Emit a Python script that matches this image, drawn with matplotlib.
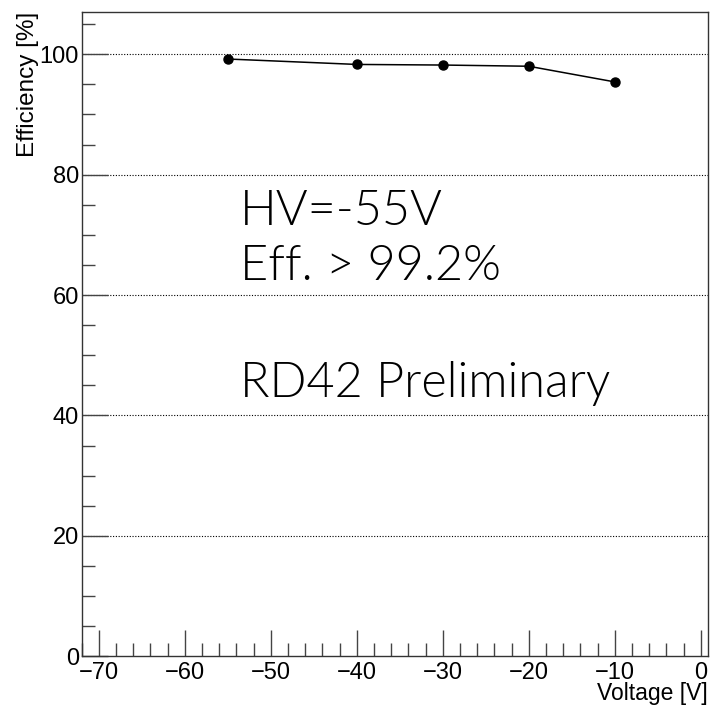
import matplotlib
matplotlib.use("Agg")
import matplotlib.pyplot as plt
from matplotlib.ticker import MultipleLocator

voltage = [-55, -40, -30, -20, -10]
efficiency = [99.2, 98.3, 98.2, 98.0, 95.4]
x_ticks = [-70, -60, -50, -40, -30, -20, -10, 0]
y_ticks = [0, 20, 40, 60, 80, 100]
annotations = ["HV=-55V", "Eff. > 99.2%", "RD42 Preliminary"]

plt.rcParams['font.family'] = ['Liberation Sans', 'DejaVu Sans']

fig = plt.figure(figsize=(7.12, 7.09), dpi=100)
ax = fig.add_axes([0.1147, 0.0743, 0.8797, 0.9087])

ax.plot(voltage, efficiency, color='black', lw=1.1, marker='o', ms=6.5, zorder=3)

ax.set_xlim(-72, 0.85)
ax.set_ylim(0, 107)
ax.set_xticks(x_ticks)
ax.set_yticks(y_ticks)
ax.xaxis.set_minor_locator(MultipleLocator(2))
ax.yaxis.set_minor_locator(MultipleLocator(5))
ax.tick_params(axis='both', which='major', direction='in', length=19, width=1.0,
               labelsize=17, color='#444444', top=False, right=False)
ax.tick_params(axis='both', which='minor', direction='in', length=9.5, width=1.0,
               color='#444444', top=False, right=False)
ax.tick_params(axis='x', pad=4)
ax.tick_params(axis='y', pad=2)

for y in y_ticks[1:]:
    ax.axhline(y, color='black', lw=0.8, ls=(0, (1, 1.5)), zorder=1)

for s in ax.spines.values():
    s.set_color('#333333')
    s.set_linewidth(1.0)

fig.text(0.9944, 0.0215, "Voltage [V]", ha='right', va='center', fontsize=16.5)
fig.text(0.04, 0.983, "Efficiency [%]", ha='center', va='top', rotation=90, fontsize=17.5)

tfont = dict(family=['Lato', 'DejaVu Sans'], weight=300, fontsize=35,
             color='black', ha='left', va='baseline')
fig.text(240/712, 1 - 225/709, annotations[0], **tfont)
fig.text(240/712, 1 - 280/709, annotations[1], **tfont)
fig.text(240/712, 1 - 397/709, annotations[2], **tfont)

fig.savefig("out.png", dpi=100)
